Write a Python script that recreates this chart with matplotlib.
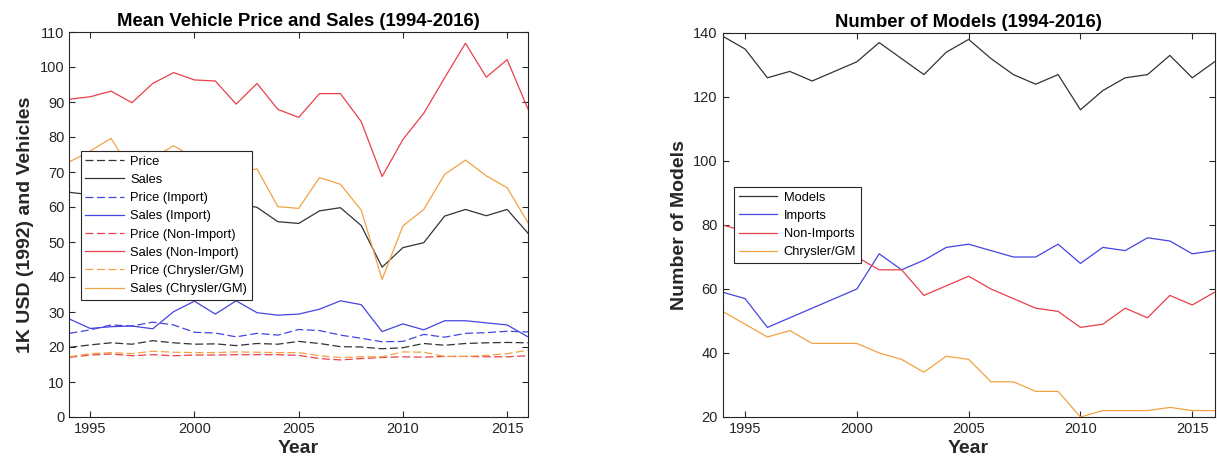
import matplotlib
matplotlib.use("Agg")
import matplotlib.pyplot as plt

plt.rcParams['font.family'] = ['Liberation Sans', 'DejaVu Sans']

years = list(range(1994, 2017))

# Left panel: mean price and sales (1K USD 1992 / vehicles)
price_all = [19.9, 20.6, 21.2, 20.8, 21.8, 21.2, 20.8, 20.9, 20.4, 21.0, 20.8, 21.6, 21.0, 20.1, 20.0, 19.5, 19.8, 21.0, 20.5, 21.0, 21.2, 21.3, 21.2]
sales_all = [64.2, 63.5, 64.0, 62.0, 63.0, 65.0, 64.0, 62.0, 61.0, 59.9, 55.8, 55.3, 58.9, 59.8, 54.7, 42.8, 48.4, 49.8, 57.4, 59.3, 57.5, 59.3, 52.5]
price_imp = [23.9, 24.9, 26.3, 26.0, 27.1, 26.3, 24.2, 24.0, 22.9, 23.9, 23.4, 25.0, 24.7, 23.4, 22.5, 21.5, 21.6, 23.6, 22.8, 23.9, 24.1, 24.5, 24.3]
sales_imp = [28.0, 25.3, 25.8, 26.0, 25.2, 30.1, 33.1, 29.4, 33.2, 29.8, 29.1, 29.4, 30.8, 33.2, 32.1, 24.4, 26.6, 24.9, 27.5, 27.5, 26.9, 26.3, 22.9]
price_non = [17.05, 17.7, 18.0, 17.5, 17.8, 17.5, 17.7, 17.7, 17.8, 17.8, 17.8, 17.6, 16.7, 16.3, 16.7, 17.0, 17.2, 17.1, 17.3, 17.3, 17.2, 17.2, 17.5]
sales_non = [90.8, 91.5, 93.1, 89.8, 95.3, 98.4, 96.3, 96.0, 89.4, 95.3, 87.9, 85.6, 92.4, 92.4, 84.4, 68.7, 79.3, 86.8, 96.9, 106.8, 97.1, 102.1, 88.0]
price_cgm = [17.2, 18.1, 18.4, 18.1, 18.8, 18.5, 18.4, 18.4, 18.6, 18.5, 18.4, 18.4, 17.5, 17.0, 17.2, 17.2, 18.6, 18.5, 17.3, 17.3, 17.6, 18.1, 19.1]
sales_cgm = [72.9, 76.0, 79.6, 70.0, 74.0, 77.5, 74.0, 72.5, 69.5, 70.9, 60.1, 59.6, 68.4, 66.5, 59.1, 39.3, 54.6, 59.3, 69.3, 73.4, 68.9, 65.5, 55.5]

# Right panel: number of models
models = [139, 135, 126, 128, 125, 128, 131, 137, 132, 127, 134, 138, 132, 127, 124, 127, 116, 122, 126, 127, 133, 126, 131]
imports = [59, 57, 48, 51, 54, 57, 60, 71, 66, 69, 73, 74, 72, 70, 70, 74, 68, 73, 72, 76, 75, 71, 72]
non_imports = [80, 78, 77, 76, 74, 72, 70, 66, 66, 58, 61, 64, 60, 57, 54, 53, 48, 49, 54, 51, 58, 55, 59]
chrysler_gm = [53, 49, 45, 47, 43, 43, 43, 40, 38, 34, 39, 38, 31, 31, 28, 28, 20, 22, 22, 22, 23, 22, 22]

BLACK = '#333333'
BLUE = '#4545e0'
RED = '#e8404a'
ORANGE = '#f2a244'

W, H = 1217, 471
fig = plt.figure(figsize=(W / 100, H / 100), dpi=100)

def ax_rect(x0, x1, y0, y1):
    return [x0 / W, 1 - y1 / H, (x1 - x0) / W, (y1 - y0) / H]

ax1 = fig.add_axes(ax_rect(69.4, 528, 32, 417))
ax2 = fig.add_axes(ax_rect(722.7, 1214.6, 33, 417))

lw = 0.9
dash = (6.4, 2.8)
ax1.plot(years, price_all, '--', dashes=dash, color=BLACK, lw=lw, label='Price')
ax1.plot(years, sales_all, '-', color=BLACK, lw=lw, label='Sales')
ax1.plot(years, price_imp, '--', dashes=dash, color=BLUE, lw=lw, label='Price (Import)')
ax1.plot(years, sales_imp, '-', color=BLUE, lw=lw, label='Sales (Import)')
ax1.plot(years, price_non, '--', dashes=dash, color=RED, lw=lw, label='Price (Non-Import)')
ax1.plot(years, sales_non, '-', color=RED, lw=lw, label='Sales (Non-Import)')
ax1.plot(years, price_cgm, '--', dashes=dash, color=ORANGE, lw=lw, label='Price (Chrysler/GM)')
ax1.plot(years, sales_cgm, '-', color=ORANGE, lw=lw, label='Sales (Chrysler/GM)')

ax2.plot(years, models, '-', color=BLACK, lw=lw, label='Models')
ax2.plot(years, imports, '-', color=BLUE, lw=lw, label='Imports')
ax2.plot(years, non_imports, '-', color=RED, lw=lw, label='Non-Imports')
ax2.plot(years, chrysler_gm, '-', color=ORANGE, lw=lw, label='Chrysler/GM')

ax1.set_xlim(1994, 2016)
ax1.set_ylim(0, 110)
ax1.set_yticks(range(0, 111, 10))
ax2.set_xlim(1994, 2016)
ax2.set_ylim(20, 140)
ax2.set_yticks(range(20, 141, 20))

for ax in (ax1, ax2):
    ax.set_xticks([1995, 2000, 2005, 2010, 2015])
    ax.tick_params(direction='in', top=True, right=True, length=4, width=0.8,
                   colors='#262626', labelsize=10.5, labelcolor='#262626')
    for s in ax.spines.values():
        s.set_color('#262626')
        s.set_linewidth(0.8)
    ax.set_xlabel('Year', fontsize=14, fontweight='bold', color='#262626', labelpad=3)

ax1.set_ylabel('1K USD (1992) and Vehicles', fontsize=14, fontweight='bold', color='#262626')
ax2.set_ylabel('Number of Models', fontsize=14, fontweight='bold', color='#262626')
ax1.set_title('Mean Vehicle Price and Sales (1994-2016)', fontsize=13.3, fontweight='bold', pad=4)
ax2.set_title('Number of Models (1994-2016)', fontsize=13.3, fontweight='bold', pad=4)

leg_kw = dict(loc='upper left', fontsize=9.3, frameon=True, fancybox=False, framealpha=1,
              borderpad=0.35, labelspacing=0.48, handlelength=3.0, handletextpad=0.5,
              borderaxespad=0)
leg1 = ax1.legend(bbox_to_anchor=((80.7 - 69.4) / (528 - 69.4), (417 - 151) / 385), **leg_kw)
leg2 = ax2.legend(bbox_to_anchor=((734 - 722.7) / (1214.6 - 722.7), (417 - 187) / 384), **leg_kw)
for leg in (leg1, leg2):
    leg.get_frame().set_edgecolor('#262626')
    leg.get_frame().set_linewidth(0.8)

fig.savefig('out.png', dpi=100)
